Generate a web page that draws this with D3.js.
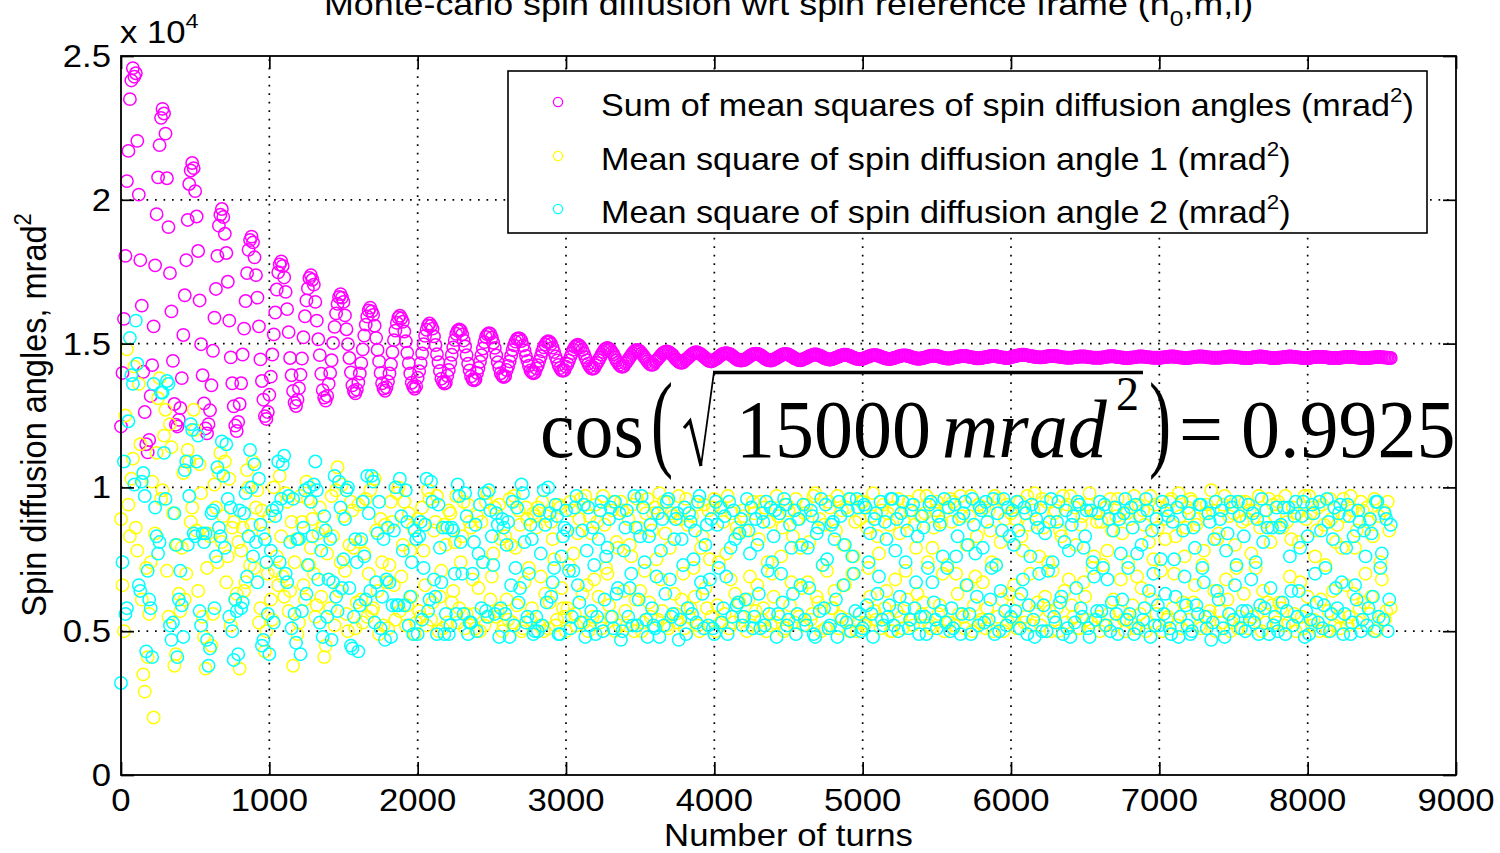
<!DOCTYPE html>
<html><head><meta charset="utf-8">
<script src="https://cdn.jsdelivr.net/npm/d3@7"></script>
<style>
html,body{margin:0;padding:0;background:#fff;}
svg{display:block;}
</style></head><body>
<svg id="chart" width="1500" height="853"></svg>
<script>
// ---------------- DATA (values in units of 10^4 mrad^2, as on the y axis) ----------------
// sample grid: one sample every 10 turns, 0 .. 8560  (one row below = 200 turns)
const turns = d3.range(0, 8570, 10);

// Sum of mean squares of spin diffusion angles
const sumMeanSquares = [
1.212,1.398,1.586,1.805,2.065,2.170,2.350,2.415,2.458,2.428,2.440,2.205,2.018,1.790,1.632,1.402,1.262,1.150,1.122,1.165,
1.318,1.425,1.560,1.772,1.950,2.078,2.190,2.285,2.316,2.300,2.230,2.075,1.905,1.745,1.612,1.440,1.290,1.218,1.212,1.235,
1.276,1.380,1.530,1.668,1.790,1.930,2.055,2.102,2.128,2.110,2.030,1.942,1.822,1.650,1.498,1.390,1.292,1.205,1.188,1.220,
1.268,1.355,1.475,1.590,1.690,1.805,1.910,1.948,1.968,1.940,1.882,1.815,1.715,1.580,1.452,1.362,1.282,1.215,1.196,1.228,
1.290,1.362,1.462,1.552,1.648,1.745,1.826,1.860,1.872,1.852,1.800,1.738,1.660,1.560,1.445,1.370,1.305,1.248,1.238,1.262,
1.322,1.385,1.462,1.532,1.608,1.688,1.748,1.775,1.786,1.770,1.730,1.680,1.620,1.540,1.450,1.390,1.335,1.295,1.283,1.305,
1.345,1.392,1.448,1.522,1.595,1.650,1.692,1.728,1.738,1.722,1.705,1.645,1.580,1.515,1.460,1.395,1.338,1.312,1.302,1.318,
1.360,1.398,1.442,1.502,1.558,1.605,1.638,1.662,1.672,1.660,1.645,1.598,1.550,1.498,1.450,1.400,1.355,1.335,1.327,1.340,
1.365,1.396,1.432,1.480,1.528,1.566,1.594,1.615,1.625,1.612,1.600,1.562,1.520,1.478,1.438,1.398,1.362,1.344,1.336,1.348,
1.368,1.396,1.428,1.470,1.512,1.545,1.572,1.590,1.597,1.588,1.576,1.542,1.508,1.468,1.432,1.396,1.364,1.350,1.343,1.352,
1.381,1.404,1.432,1.466,1.498,1.527,1.548,1.563,1.570,1.562,1.552,1.525,1.495,1.463,1.435,1.405,1.378,1.367,1.361,1.364,
1.388,1.408,1.433,1.461,1.487,1.512,1.534,1.545,1.549,1.546,1.532,1.511,1.490,1.460,1.430,1.407,1.386,1.375,1.372,1.376,
1.398,1.415,1.437,1.460,1.483,1.505,1.523,1.532,1.536,1.534,1.521,1.503,1.485,1.459,1.435,1.416,1.397,1.388,1.384,1.387,
1.408,1.422,1.438,1.458,1.478,1.494,1.507,1.516,1.519,1.517,1.509,1.493,1.476,1.457,1.440,1.423,1.407,1.400,1.397,1.399,
1.414,1.425,1.440,1.456,1.473,1.487,1.497,1.505,1.508,1.506,1.499,1.486,1.471,1.455,1.441,1.426,1.415,1.407,1.405,1.408,
1.420,1.429,1.441,1.454,1.467,1.479,1.488,1.494,1.496,1.493,1.487,1.478,1.466,1.453,1.442,1.430,1.421,1.414,1.412,1.415,
1.425,1.433,1.442,1.452,1.462,1.471,1.479,1.483,1.485,1.482,1.478,1.470,1.463,1.452,1.441,1.434,1.426,1.421,1.419,1.422,
1.431,1.437,1.444,1.452,1.460,1.467,1.473,1.477,1.478,1.476,1.472,1.466,1.459,1.452,1.445,1.438,1.431,1.427,1.426,1.428,
1.437,1.441,1.447,1.453,1.459,1.465,1.469,1.472,1.473,1.471,1.468,1.464,1.460,1.453,1.446,1.442,1.437,1.434,1.433,1.435,
1.441,1.445,1.449,1.454,1.459,1.463,1.467,1.469,1.470,1.468,1.466,1.463,1.458,1.454,1.450,1.445,1.441,1.439,1.438,1.440,
1.444,1.446,1.450,1.454,1.458,1.462,1.465,1.466,1.467,1.466,1.464,1.462,1.458,1.454,1.450,1.446,1.443,1.442,1.441,1.442,
1.443,1.446,1.449,1.453,1.457,1.460,1.463,1.464,1.465,1.464,1.463,1.460,1.457,1.453,1.449,1.446,1.443,1.442,1.441,1.442,
1.444,1.447,1.450,1.453,1.456,1.459,1.462,1.463,1.464,1.463,1.462,1.459,1.456,1.453,1.449,1.447,1.444,1.443,1.442,1.443,
1.446,1.448,1.450,1.453,1.456,1.458,1.460,1.462,1.462,1.462,1.460,1.458,1.456,1.453,1.450,1.448,1.446,1.445,1.444,1.445,
1.447,1.449,1.451,1.453,1.455,1.458,1.459,1.461,1.461,1.461,1.459,1.458,1.455,1.453,1.451,1.449,1.447,1.446,1.445,1.446,
1.447,1.449,1.451,1.453,1.455,1.457,1.459,1.460,1.460,1.460,1.459,1.457,1.455,1.453,1.451,1.449,1.448,1.447,1.446,1.447,
1.448,1.450,1.451,1.453,1.455,1.456,1.458,1.459,1.459,1.459,1.458,1.456,1.455,1.453,1.451,1.450,1.448,1.448,1.447,1.448,
1.449,1.450,1.452,1.453,1.455,1.456,1.457,1.458,1.458,1.458,1.457,1.456,1.454,1.453,1.451,1.450,1.449,1.448,1.448,1.448,
1.450,1.451,1.452,1.453,1.454,1.455,1.456,1.457,1.457,1.457,1.456,1.455,1.454,1.453,1.452,1.451,1.450,1.449,1.449,1.449,
1.450,1.451,1.452,1.453,1.454,1.455,1.456,1.457,1.457,1.457,1.456,1.455,1.454,1.453,1.452,1.451,1.451,1.450,1.450,1.451,
1.453,1.454,1.456,1.457,1.458,1.459,1.460,1.461,1.461,1.461,1.460,1.459,1.458,1.457,1.456,1.455,1.454,1.453,1.453,1.452,
1.452,1.452,1.453,1.454,1.455,1.456,1.457,1.457,1.457,1.457,1.456,1.456,1.455,1.454,1.453,1.452,1.452,1.451,1.451,1.451,
1.451,1.451,1.452,1.453,1.453,1.454,1.455,1.455,1.455,1.455,1.455,1.454,1.453,1.453,1.452,1.451,1.451,1.451,1.451,1.451,
1.451,1.451,1.452,1.453,1.454,1.455,1.455,1.456,1.456,1.456,1.455,1.454,1.453,1.453,1.452,1.451,1.451,1.450,1.450,1.450,
1.451,1.451,1.452,1.452,1.453,1.454,1.455,1.455,1.455,1.455,1.454,1.454,1.453,1.452,1.452,1.451,1.451,1.451,1.451,1.451,
1.450,1.451,1.452,1.452,1.453,1.454,1.454,1.455,1.455,1.455,1.455,1.454,1.453,1.452,1.452,1.451,1.451,1.450,1.450,1.450,
1.451,1.451,1.452,1.453,1.454,1.454,1.455,1.455,1.455,1.455,1.454,1.454,1.453,1.452,1.452,1.451,1.451,1.451,1.451,1.451,
1.451,1.451,1.452,1.452,1.453,1.454,1.454,1.455,1.455,1.455,1.454,1.454,1.453,1.452,1.452,1.451,1.451,1.450,1.450,1.450,
1.450,1.450,1.451,1.452,1.453,1.454,1.454,1.455,1.455,1.455,1.454,1.454,1.453,1.452,1.451,1.451,1.450,1.450,1.450,1.450,
1.451,1.451,1.452,1.452,1.453,1.454,1.454,1.455,1.455,1.455,1.454,1.454,1.453,1.452,1.452,1.451,1.451,1.450,1.450,1.450,
1.450,1.450,1.451,1.452,1.453,1.453,1.454,1.454,1.454,1.454,1.454,1.453,1.453,1.452,1.451,1.451,1.450,1.450,1.450,1.450,
1.450,1.450,1.451,1.452,1.452,1.453,1.454,1.454,1.454,1.454,1.454,1.453,1.452,1.452,1.451,1.451,1.450,1.450,1.450,1.450,
1.450,1.450,1.451,1.451,1.452,1.452,1.453,1.453,1.454,1.453,1.453,1.452,1.452,1.451,1.451,1.450,1.450
];

// Mean square of spin diffusion angle 1
const meanSquareAngle1 = [
0.89,0.66,0.50,1.25,1.48,0.94,0.83,1.03,1.10,1.42,0.86,0.78,1.36,1.15,0.61,0.35,0.29,0.72,0.41,0.56,
0.74,1.02,0.20,0.84,1.12,1.31,1.38,0.96,0.99,1.18,1.27,0.71,0.55,1.22,1.14,0.91,0.38,0.42,0.80,0.63,
0.57,0.79,1.05,0.61,0.70,1.13,1.09,0.88,0.93,1.27,1.20,0.85,0.64,1.08,0.98,0.55,0.48,0.37,0.72,0.84,
0.83,0.45,0.56,1.01,0.93,0.74,1.05,1.12,0.81,0.90,1.09,0.67,0.76,1.03,0.52,0.86,0.88,0.61,0.63,0.81,
0.37,0.78,0.86,0.64,0.67,1.06,1.00,0.73,0.87,1.09,0.72,0.93,0.99,0.53,0.58,0.92,0.84,0.43,0.50,0.70,
0.90,0.61,0.54,1.00,0.71,0.76,0.66,1.04,0.83,0.69,0.62,0.98,0.95,0.57,0.64,0.88,0.38,0.74,0.82,0.49,
0.53,0.97,0.88,0.66,0.61,1.02,0.96,0.73,0.79,0.89,0.70,0.55,0.59,0.84,0.93,0.62,0.86,0.41,0.45,0.77,
0.68,0.58,0.97,0.83,0.52,0.99,1.07,0.64,0.74,1.01,0.90,0.71,0.56,0.50,0.80,0.95,0.92,0.79,0.51,0.60,
0.94,0.81,0.61,0.53,0.77,0.96,0.55,0.70,0.99,0.57,0.58,1.03,0.85,0.64,0.49,0.89,0.74,0.52,0.87,0.67,
0.51,0.73,0.95,0.88,0.66,0.54,0.98,1.00,0.57,0.69,0.80,0.95,0.52,0.59,0.91,0.78,0.62,0.86,0.49,0.53,
0.89,0.57,0.55,0.93,0.78,0.66,0.52,0.99,0.96,0.54,0.60,0.85,0.88,0.97,0.50,0.62,0.71,0.51,0.87,0.80,
0.53,0.92,0.91,0.60,0.64,0.81,0.97,0.53,0.58,0.74,0.83,0.95,0.51,0.56,0.94,0.88,0.86,0.68,0.56,0.51,
0.90,0.65,0.50,0.88,0.74,0.52,0.95,0.98,0.55,0.61,0.69,0.77,0.93,0.55,0.57,0.94,0.82,0.50,0.52,0.83,
0.61,0.54,0.96,0.80,0.53,0.97,0.79,0.59,0.92,0.87,0.50,0.51,0.67,0.93,0.89,0.72,0.54,0.58,0.91,0.90,
0.86,0.93,0.52,0.69,0.95,0.50,0.63,0.90,0.51,0.60,0.88,0.82,0.75,0.52,0.54,0.94,0.93,0.65,0.58,0.55,
0.50,0.58,0.73,0.95,0.92,0.77,0.56,0.52,0.84,0.89,0.96,0.63,0.53,0.97,0.66,0.50,0.90,0.84,0.55,0.68,
0.94,0.88,0.62,0.53,0.51,0.97,0.87,0.72,0.70,0.59,0.55,0.92,0.95,0.50,0.81,0.79,0.52,0.95,0.92,0.64,
0.57,0.52,0.89,0.80,0.76,0.94,0.50,0.61,0.96,0.86,0.64,0.50,0.53,0.71,0.91,0.96,0.60,0.55,0.85,0.91,
0.93,0.75,0.54,0.98,0.68,0.57,0.95,0.84,0.52,0.51,0.79,0.91,0.90,0.63,0.56,0.53,0.97,0.89,0.61,0.70,
0.51,0.96,0.87,0.55,0.58,0.90,0.72,0.62,0.94,0.52,0.50,0.79,0.83,0.94,0.65,0.58,0.92,0.75,0.55,0.93,
0.96,0.50,0.59,0.74,0.53,0.93,0.88,0.56,0.77,0.97,0.51,0.68,0.91,0.53,0.63,0.86,0.84,0.60,0.55,0.92,
0.90,0.85,0.50,0.61,0.69,0.52,0.95,0.91,0.57,0.66,0.82,0.95,0.54,0.58,0.93,0.50,0.74,0.88,0.52,0.70,
0.62,0.53,0.97,0.90,0.55,0.76,0.86,0.50,0.51,0.94,0.92,0.59,0.67,0.83,0.53,0.96,0.89,0.55,0.79,0.65,
0.52,0.91,0.94,0.67,0.81,0.54,0.56,0.97,0.98,0.62,0.60,0.89,0.50,0.73,0.87,0.51,0.71,0.95,0.93,0.58,
0.58,0.64,0.85,0.97,0.51,0.55,0.92,0.80,0.66,0.93,0.54,0.50,0.96,0.70,0.76,0.88,0.50,0.53,0.89,0.95,
0.95,0.52,0.53,0.86,0.72,0.62,0.90,0.98,0.57,0.54,0.83,0.77,0.51,0.92,0.94,0.58,0.64,0.91,0.87,0.50,
0.50,0.93,0.68,0.57,0.96,0.84,0.55,0.51,0.88,0.71,0.61,0.95,0.92,0.54,0.52,0.87,0.79,0.63,0.97,0.90,
0.56,0.60,0.91,0.97,0.74,0.52,0.51,0.79,0.86,0.92,0.95,0.56,0.59,0.88,0.70,0.50,0.93,0.73,0.53,0.96,
0.88,0.95,0.52,0.70,0.63,0.56,0.97,0.90,0.55,0.51,0.80,0.66,0.90,0.97,0.50,0.59,0.69,0.83,0.94,0.53,
0.54,0.67,0.93,0.51,0.58,0.92,0.85,0.74,0.50,0.97,0.73,0.55,0.96,0.81,0.61,0.50,0.89,0.94,0.53,0.63,
0.91,0.54,0.66,0.89,0.51,0.61,0.95,0.83,0.78,0.53,0.55,0.97,0.87,0.70,0.52,0.92,0.98,0.57,0.60,0.76,
0.52,0.96,0.86,0.62,0.95,0.74,0.57,0.50,0.71,0.91,0.92,0.58,0.50,0.85,0.83,0.97,0.64,0.53,0.94,0.68,
0.97,0.59,0.55,0.93,0.80,0.51,0.51,0.87,0.90,0.67,0.62,0.54,0.94,0.98,0.53,0.72,0.76,0.91,0.88,0.55,
0.50,0.88,0.73,0.52,0.93,0.78,0.56,0.96,0.85,0.61,0.52,0.90,0.96,0.57,0.68,0.84,0.54,0.50,0.91,0.74,
0.89,0.53,0.59,0.97,0.51,0.69,0.94,0.56,0.65,0.92,0.87,0.50,0.53,0.81,0.97,0.61,0.75,0.94,0.56,0.86,
0.93,0.71,0.50,0.89,0.82,0.54,0.55,0.95,0.96,0.58,0.70,0.83,0.52,0.98,0.90,0.51,0.60,0.76,0.86,0.93,
0.54,0.96,0.95,0.60,0.66,0.87,0.89,0.52,0.51,0.73,0.78,0.91,0.94,0.55,0.57,0.99,0.92,0.64,0.50,0.82,
0.84,0.57,0.53,0.94,0.97,0.68,0.61,0.90,0.50,0.53,0.91,0.80,0.72,0.51,0.55,0.95,0.88,0.63,0.95,0.89,
0.51,0.92,0.77,0.55,0.92,0.72,0.56,0.97,0.86,0.50,0.64,0.88,0.53,0.60,0.96,0.81,0.59,0.94,0.90,0.53,
0.95,0.60,0.58,0.86,0.52,0.97,0.88,0.53,0.69,0.82,0.93,0.56,0.50,0.91,0.81,0.67,0.55,0.51,0.97,0.89,
0.62,0.97,0.91,0.52,0.54,0.76,0.85,0.93,0.50,0.61,0.94,0.87,0.73,0.50,0.57,0.96,0.89,0.64,0.52,0.81,
0.87,0.55,0.51,0.79,0.96,0.90,0.66,0.52,0.55,0.97,0.92,0.63,0.79,0.85,0.53,0.58,0.95,0.92,0.60,0.70,
0.93,0.88,0.56,0.62,0.83,0.96,0.50,0.51,0.90,0.74,0.68,0.92,0.54,0.57,0.95,0.85,0.58
];

// Mean square of spin diffusion angle 2
const meanSquareAngle2 = [
0.32,0.74,1.09,0.56,0.58,1.23,1.52,1.39,1.36,1.01,1.58,1.43,0.66,0.64,1.02,1.05,0.97,0.43,0.71,0.61,
0.58,0.41,1.36,0.93,0.83,0.77,0.81,1.33,1.33,1.12,0.96,1.37,1.36,0.52,0.47,0.53,0.91,0.80,0.41,0.61,
0.71,0.59,0.48,1.06,1.09,0.80,0.97,1.22,1.20,0.84,0.83,1.09,1.18,0.57,0.52,0.84,0.81,0.84,0.47,0.38,
0.44,0.91,0.92,0.58,0.76,1.07,0.86,0.83,1.16,1.04,0.79,1.15,0.96,0.55,0.93,0.50,0.40,0.61,0.57,0.42,
0.92,0.58,0.60,0.91,0.98,0.69,0.83,1.13,1.00,0.76,1.08,0.81,0.67,1.03,0.87,0.45,0.47,0.82,0.74,0.56,
0.42,0.78,0.92,0.53,0.90,0.93,1.09,0.74,0.96,1.08,1.11,0.70,0.67,0.97,0.81,0.51,0.96,0.56,0.46,0.82,
0.82,0.42,0.57,0.86,0.99,0.63,0.73,1.00,0.95,0.83,1.01,1.09,0.99,0.68,0.53,0.78,0.48,0.90,0.85,0.55,
0.68,0.82,0.47,0.67,1.04,0.62,0.57,1.02,0.93,0.65,0.75,0.89,0.99,1.00,0.65,0.45,0.44,0.55,0.82,0.74,
0.43,0.59,0.82,0.95,0.76,0.61,1.04,0.91,0.64,1.04,1.02,0.53,0.67,0.84,0.95,0.51,0.62,0.82,0.47,0.68,
0.86,0.67,0.48,0.59,0.85,1.00,0.59,0.59,1.03,0.90,0.78,0.59,0.99,0.88,0.52,0.62,0.74,0.49,0.85,0.82,
0.49,0.83,0.88,0.54,0.72,0.87,1.03,0.57,0.61,1.02,0.95,0.68,0.62,0.49,0.94,0.79,0.67,0.86,0.49,0.56,
0.86,0.49,0.52,0.86,0.85,0.70,0.56,1.01,0.97,0.81,0.70,0.56,0.98,0.90,0.49,0.53,0.53,0.70,0.81,0.87,
0.50,0.77,0.94,0.58,0.74,0.98,0.57,0.55,0.99,0.92,0.83,0.73,0.56,0.91,0.87,0.48,0.58,0.89,0.86,0.56,
0.80,0.88,0.48,0.66,0.95,0.52,0.72,0.93,0.60,0.65,1.01,0.98,0.81,0.53,0.55,0.70,0.87,0.82,0.49,0.50,
0.55,0.50,0.92,0.77,0.52,0.99,0.87,0.60,1.00,0.91,0.62,0.67,0.72,0.94,0.90,0.49,0.49,0.76,0.83,0.86,
0.92,0.85,0.71,0.51,0.55,0.71,0.93,0.97,0.66,0.60,0.53,0.85,0.94,0.48,0.78,0.93,0.52,0.57,0.86,0.73,
0.49,0.55,0.82,0.92,0.95,0.50,0.61,0.76,0.79,0.89,0.93,0.55,0.51,0.95,0.63,0.65,0.91,0.47,0.50,0.78,
0.86,0.92,0.55,0.65,0.70,0.52,0.97,0.86,0.52,0.61,0.83,0.97,0.93,0.74,0.54,0.48,0.83,0.87,0.58,0.52,
0.51,0.69,0.91,0.48,0.78,0.89,0.52,0.63,0.95,0.96,0.68,0.55,0.56,0.82,0.89,0.91,0.47,0.54,0.82,0.73,
0.93,0.49,0.58,0.91,0.88,0.56,0.75,0.85,0.53,0.95,0.97,0.67,0.63,0.51,0.80,0.87,0.52,0.68,0.89,0.51,
0.49,0.95,0.87,0.72,0.93,0.53,0.58,0.90,0.69,0.49,0.95,0.79,0.55,0.92,0.82,0.59,0.60,0.84,0.89,0.52,
0.55,0.61,0.96,0.85,0.77,0.93,0.51,0.55,0.89,0.80,0.63,0.51,0.91,0.88,0.52,0.95,0.71,0.56,0.93,0.74,
0.83,0.92,0.48,0.56,0.91,0.70,0.60,0.96,0.94,0.52,0.54,0.87,0.79,0.63,0.92,0.49,0.56,0.89,0.66,0.80,
0.94,0.54,0.52,0.79,0.65,0.92,0.90,0.49,0.48,0.84,0.86,0.57,0.96,0.73,0.58,0.94,0.75,0.51,0.52,0.87,
0.88,0.82,0.61,0.48,0.95,0.90,0.54,0.66,0.80,0.53,0.92,0.96,0.50,0.76,0.70,0.57,0.96,0.93,0.56,0.50,
0.51,0.94,0.93,0.59,0.74,0.84,0.56,0.48,0.89,0.91,0.63,0.69,0.95,0.54,0.52,0.88,0.82,0.55,0.59,0.96,
0.96,0.52,0.78,0.89,0.50,0.62,0.91,0.95,0.58,0.74,0.85,0.51,0.54,0.92,0.94,0.58,0.67,0.83,0.49,0.55,
0.90,0.86,0.55,0.49,0.72,0.94,0.95,0.67,0.60,0.54,0.51,0.90,0.87,0.57,0.76,0.96,0.53,0.72,0.93,0.50,
0.58,0.51,0.94,0.76,0.83,0.89,0.49,0.56,0.91,0.95,0.66,0.80,0.56,0.49,0.96,0.87,0.77,0.62,0.52,0.93,
0.92,0.79,0.53,0.95,0.88,0.54,0.61,0.72,0.96,0.49,0.73,0.91,0.50,0.64,0.85,0.96,0.57,0.52,0.93,0.83,
0.55,0.92,0.80,0.57,0.95,0.85,0.51,0.63,0.68,0.93,0.91,0.49,0.59,0.76,0.94,0.54,0.48,0.89,0.86,0.70,
0.93,0.50,0.59,0.84,0.50,0.71,0.88,0.96,0.74,0.55,0.53,0.88,0.95,0.60,0.62,0.49,0.81,0.92,0.51,0.78,
0.48,0.87,0.90,0.53,0.65,0.95,0.94,0.58,0.55,0.79,0.83,0.92,0.51,0.48,0.92,0.74,0.69,0.54,0.57,0.91,
0.95,0.57,0.72,0.94,0.52,0.68,0.89,0.50,0.60,0.85,0.93,0.56,0.49,0.89,0.77,0.61,0.91,0.96,0.54,0.72,
0.56,0.93,0.86,0.49,0.94,0.77,0.51,0.90,0.80,0.54,0.58,0.96,0.92,0.64,0.48,0.85,0.70,0.52,0.89,0.59,
0.52,0.75,0.95,0.56,0.63,0.92,0.90,0.51,0.49,0.88,0.75,0.62,0.93,0.48,0.55,0.95,0.85,0.69,0.59,0.52,
0.91,0.49,0.50,0.86,0.79,0.59,0.56,0.94,0.94,0.72,0.67,0.55,0.51,0.91,0.88,0.47,0.53,0.82,0.95,0.64,
0.61,0.89,0.92,0.51,0.48,0.78,0.84,0.56,0.95,0.93,0.54,0.66,0.73,0.95,0.90,0.51,0.57,0.83,0.50,0.57,
0.94,0.54,0.68,0.91,0.53,0.74,0.89,0.49,0.59,0.96,0.81,0.58,0.92,0.86,0.49,0.65,0.86,0.52,0.55,0.93,
0.50,0.86,0.87,0.60,0.93,0.49,0.57,0.93,0.76,0.64,0.52,0.90,0.95,0.55,0.64,0.79,0.90,0.95,0.48,0.57,
0.83,0.49,0.54,0.94,0.91,0.70,0.60,0.53,0.95,0.85,0.51,0.59,0.72,0.96,0.88,0.50,0.56,0.82,0.93,0.65,
0.58,0.91,0.94,0.67,0.49,0.56,0.79,0.94,0.90,0.49,0.53,0.83,0.66,0.61,0.92,0.88,0.50,0.54,0.85,0.76,
0.52,0.58,0.89,0.84,0.62,0.50,0.95,0.95,0.55,0.72,0.77,0.54,0.91,0.89,0.50,0.61,0.87
];

const xTickValues = [0,1000,2000,3000,4000,5000,6000,7000,8000,9000];
const yTickValues = [0,0.5,1,1.5,2,2.5];
const yTickLabels = ["0","0.5","1","1.5","2","2.5"];
const seriesLabels = [
  "Sum of mean squares of spin diffusion angles (mrad",
  "Mean square of spin diffusion angle 1 (mrad",
  "Mean square of spin diffusion angle 2 (mrad"
];
const seriesColors = ["#ff00ff", "#ffff00", "#00ffff"];
const titleText = "Monte-carlo spin diffusion wrt spin reference frame (n";
const xLabelText = "Number of turns";
const yLabelText = "Spin diffusion angles, mrad";

// ---------------- LAYOUT ----------------
const plot = {left: 121, right: 1456, top: 56, bottom: 775};
const SANS = "'Liberation Sans', Arial, Helvetica, sans-serif";
const SERIF = "'Liberation Serif', 'Times New Roman', serif";
const SX = 1.12;          // horizontal stretch of the original raster fonts
const FS = 31;

const x = d3.scaleLinear().domain([0, 9000]).range([plot.left, plot.right]);
const y = d3.scaleLinear().domain([0, 2.5]).range([plot.bottom, plot.top]);

const svg = d3.select("#chart");
svg.append("rect").attr("width", 1500).attr("height", 853).attr("fill", "#fff");

// ---------------- GRID ----------------
const grid = svg.append("g").attr("stroke", "#000").attr("stroke-width", 1.7)
  .attr("stroke-dasharray", "1.7,6.8");
grid.selectAll("line.v").data(xTickValues.filter(d => d > 0 && d < 9000)).join("line")
  .attr("x1", d => x(d)).attr("x2", d => x(d))
  .attr("y1", plot.bottom).attr("y2", plot.top);
grid.selectAll("line.h").data(yTickValues.filter(d => d > 0 && d < 2.5)).join("line")
  .attr("x1", plot.left).attr("x2", plot.right)
  .attr("y1", d => y(d)).attr("y2", d => y(d));

// ---------------- DATA MARKS ----------------
const seriesData = [sumMeanSquares, meanSquareAngle1, meanSquareAngle2];
seriesData.forEach((vals, k) => {
  const pts = turns.map((t, i) => [t, vals[i]]).filter(d => d[1] !== undefined);
  svg.append("g").attr("fill", "none").attr("stroke", seriesColors[k]).attr("stroke-width", 1.5)
    .selectAll("circle").data(pts).join("circle")
    .attr("cx", d => x(d[0])).attr("cy", d => y(d[1])).attr("r", 6.2);
});

// ---------------- AXES ----------------
function styleAxis(g) {
  g.select(".domain").remove();
  g.selectAll(".tick line").attr("stroke", "#000").attr("stroke-width", 1.7);
  g.selectAll(".tick text").remove();
}
svg.append("g").attr("transform", `translate(0,${plot.bottom})`)
  .call(d3.axisBottom(x).tickValues(xTickValues).tickSizeInner(-13).tickSizeOuter(0)).call(styleAxis);
svg.append("g").attr("transform", `translate(0,${plot.top})`)
  .call(d3.axisTop(x).tickValues(xTickValues).tickSizeInner(-13).tickSizeOuter(0)).call(styleAxis);
svg.append("g").attr("transform", `translate(${plot.left},0)`)
  .call(d3.axisLeft(y).tickValues(yTickValues).tickSizeInner(-13).tickSizeOuter(0)).call(styleAxis);
svg.append("g").attr("transform", `translate(${plot.right},0)`)
  .call(d3.axisRight(y).tickValues(yTickValues).tickSizeInner(-13).tickSizeOuter(0)).call(styleAxis);
svg.append("rect").attr("x", plot.left).attr("y", plot.top)
  .attr("width", plot.right - plot.left).attr("height", plot.bottom - plot.top)
  .attr("fill", "none").attr("stroke", "#000").attr("stroke-width", 1.8);

// tick labels
svg.append("g").selectAll("text").data(xTickValues).join("text")
  .attr("transform", d => `translate(${x(d)},811) scale(${SX},1)`)
  .attr("text-anchor", "middle").attr("font-family", SANS).attr("font-size", FS)
  .text(d => d);
svg.append("g").selectAll("text").data(yTickValues).join("text")
  .attr("transform", d => `translate(111,${y(d) + 11}) scale(${SX},1)`)
  .attr("text-anchor", "end").attr("font-family", SANS).attr("font-size", FS)
  .text((d, i) => yTickLabels[i]);

// exponent "x 10^4"
const expo = svg.append("text").attr("transform", `translate(120,43) scale(${SX},1)`)
  .attr("font-family", SANS).attr("font-size", FS);
expo.append("tspan").text("x 10");
expo.append("tspan").attr("dy", -15).attr("font-size", 21).text("4");

// title (cut by the top edge, as in the original figure)
const title = svg.append("text").attr("transform", `translate(${(plot.left + plot.right) / 2},15) scale(${SX},1)`)
  .attr("text-anchor", "middle").attr("font-family", SANS).attr("font-size", 32);
title.append("tspan").text(titleText);
title.append("tspan").attr("dy", 11).attr("font-size", 22).text("0");
title.append("tspan").attr("dy", -11).text(",m,l)");

// axis labels
svg.append("text").attr("transform", `translate(${(plot.left + plot.right) / 2},846) scale(${SX},1)`)
  .attr("text-anchor", "middle").attr("font-family", SANS).attr("font-size", FS).text(xLabelText);
const yl = svg.append("text").attr("transform", `translate(46,415) rotate(-90) scale(1,1.08)`)
  .attr("text-anchor", "middle").attr("font-family", SANS).attr("font-size", 32.5);
yl.append("tspan").text(yLabelText);
yl.append("tspan").attr("dy", -14).attr("font-size", 22).text("2");

// ---------------- LEGEND ----------------
const leg = svg.append("g");
leg.append("rect").attr("x", 508).attr("y", 71).attr("width", 919).attr("height", 162)
  .attr("fill", "#fff").attr("stroke", "#000").attr("stroke-width", 1.6);
const rowBase = [116, 170, 223];
seriesLabels.forEach((lab, k) => {
  leg.append("circle").attr("cx", 558).attr("cy", rowBase[k] - 14).attr("r", 4.6)
    .attr("fill", "none").attr("stroke", seriesColors[k]).attr("stroke-width", 1.3);
  const t = leg.append("text").attr("transform", `translate(601,${rowBase[k]}) scale(${SX},1)`)
    .attr("font-family", SANS).attr("font-size", 30.5);
  t.append("tspan").text(lab);
  t.append("tspan").attr("dy", -14).attr("font-size", 20).text("2");
  t.append("tspan").attr("dy", 14).text(")");
});

// ---------------- EQUATION ANNOTATION ----------------
const eq = svg.append("g").attr("font-family", SERIF).attr("fill", "#000");
const EQB = 457, EQF = 78;
function eqText(str, px, opts = {}) {
  const sx = opts.sx || 1, sy = opts.sy || 1.07;
  return eq.append("text")
    .attr("transform", `translate(${px},${opts.base || EQB}) scale(${sx},${sy})`)
    .attr("font-size", opts.size || EQF)
    .attr("font-style", opts.italic ? "italic" : "normal")
    .text(str);
}
eqText("cos", 540);
eqText("(", 651, {sx: 0.85, sy: 1.38});
eq.append("path").attr("d", "M684,428 L690,421 L701,466").attr("fill", "none")
  .attr("stroke", "#000").attr("stroke-width", 3.2).attr("stroke-linejoin", "miter");
eq.append("path").attr("d", "M701,466 L714,372").attr("fill", "none")
  .attr("stroke", "#000").attr("stroke-width", 1.8);
eq.append("path").attr("d", "M713,372.5 L1143,372.5").attr("fill", "none")
  .attr("stroke", "#000").attr("stroke-width", 3.6);
eqText("15000", 736);
eqText("mrad", 942, {italic: true});
eqText("2", 1116, {size: 46, base: 410, sy: 1.05});
eqText(")", 1149, {sx: 0.85, sy: 1.38});
eqText("=", 1179);
eqText("0.9925", 1241);
</script>
</body></html>
